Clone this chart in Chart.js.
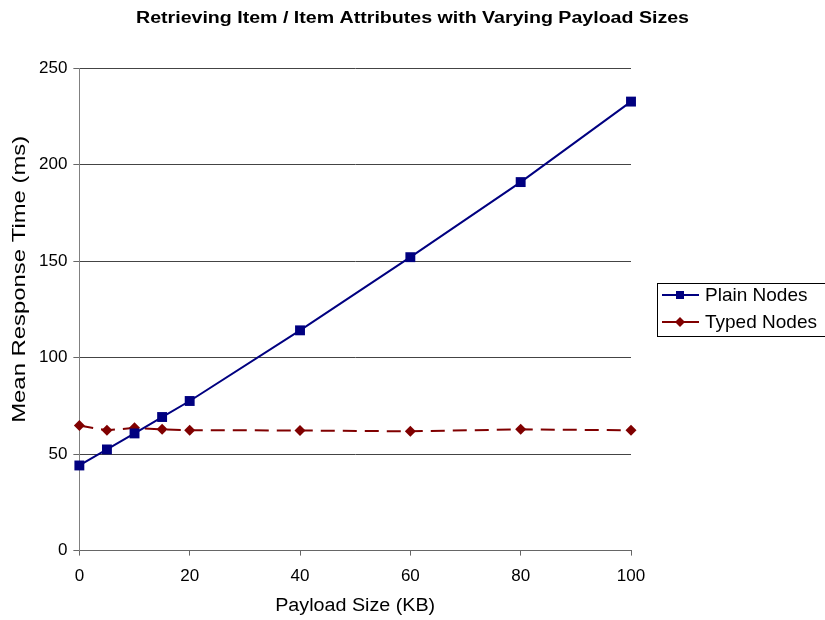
<!DOCTYPE html>
<html><head><meta charset="utf-8">
<script src="https://cdn.jsdelivr.net/npm/chart.js@4"></script>
<style>html,body{margin:0;padding:0;background:#fff;}#wrap{width:825px;height:620px;}</style>
</head><body><div id="wrap"><canvas id="c" width="825" height="620"></canvas></div>
<script>
const payloadSizes = [0, 5, 10, 15, 20, 40, 60, 80, 100];
const plainNodes = [44.1, 52.4, 60.7, 69.2, 77.5, 114.1, 152.0, 190.9, 232.6];
const typedNodes = [64.8, 62.3, 63.6, 62.8, 62.4, 62.2, 61.8, 62.8, 62.3];
const seriesLabels = ['Plain Nodes', 'Typed Nodes'];
const titleText = 'Retrieving Item / Item Attributes with Varying Payload Sizes';
const xTitle = 'Payload Size (KB)';
const yTitle = 'Mean Response Time (ms)';

const FONT = "'Liberation Sans', Arial, sans-serif";
Chart.defaults.font.family = FONT;
Chart.defaults.color = '#000';

function stretchedText(ctx, text, cx, cy, font, targetW, rot) {
  ctx.save();
  ctx.font = font;
  const w = ctx.measureText(text).width;
  const sx = targetW / w;
  ctx.translate(cx, cy);
  if (rot) ctx.rotate(rot);
  ctx.scale(sx, 1);
  ctx.fillStyle = '#000';
  ctx.textAlign = 'center';
  ctx.textBaseline = 'middle';
  ctx.fillText(text, 0, 0);
  ctx.restore();
}

const decorations = {
  id: 'decorations',
  afterDraw(chart) {
    const ctx = chart.ctx;
    const ca = chart.chartArea;
    stretchedText(ctx, titleText, chart.width / 2, 19, 'bold 16px ' + FONT, 553, 0);
    stretchedText(ctx, xTitle, (ca.left + ca.right) / 2, 606, '18px ' + FONT, 160, 0);
    stretchedText(ctx, yTitle, 20, (ca.top + ca.bottom) / 2 - 30, '18px ' + FONT, 287, -Math.PI / 2);
    const x0 = 657, y0 = 283, w = 175, h = 53;
    ctx.save();
    ctx.strokeStyle = '#000';
    ctx.lineWidth = 1;
    ctx.strokeRect(x0 + 0.5, y0 + 0.5, w, h);
    chart.data.datasets.forEach((ds, i) => {
      const y = y0 + 12 + i * 27;
      ctx.strokeStyle = ds.borderColor;
      ctx.lineWidth = 2;
      ctx.beginPath(); ctx.moveTo(662, y); ctx.lineTo(699, y); ctx.stroke();
      ctx.fillStyle = ds.borderColor;
      if (ds.pointStyle === 'rect') {
        ctx.fillRect(676, y - 4, 8, 8);
      } else {
        ctx.beginPath(); ctx.moveTo(680, y - 5); ctx.lineTo(685, y); ctx.lineTo(680, y + 5); ctx.lineTo(675, y); ctx.closePath(); ctx.fill();
      }
      ctx.fillStyle = '#000';
      ctx.font = '19px ' + FONT;
      ctx.textBaseline = 'middle';
      ctx.textAlign = 'left';
      ctx.fillText(ds.label, 705, y + 1);
    });
    ctx.restore();
  }
};

new Chart(document.getElementById('c'), {
  type: 'line',
  data: {
    datasets: [
      {
        label: seriesLabels[0],
        data: payloadSizes.map((x, i) => ({x, y: plainNodes[i]})),
        borderColor: '#000080', backgroundColor: '#000080',
        borderWidth: 2, pointStyle: 'rect', pointRadius: 7, pointBorderWidth: 0,
        clip: false, tension: 0
      },
      {
        label: seriesLabels[1],
        data: payloadSizes.map((x, i) => ({x, y: typedNodes[i]})),
        borderColor: '#800000', backgroundColor: '#800000',
        borderWidth: 2, borderDash: [14, 8], pointStyle: 'rectRot', pointRadius: 5.5, pointBorderWidth: 0,
        clip: false, tension: 0
      }
    ]
  },
  options: {
    responsive: false, animation: false,
    layout: { padding: { left: 33, right: 194, top: 68, bottom: 22 } },
    plugins: {
      legend: { display: false },
      tooltip: { enabled: false },
      title: { display: false }
    },
    scales: {
      x: {
        type: 'linear', min: 0, max: 100,
        ticks: { stepSize: 20, font: { size: 17 }, color: '#000', padding: 11, maxRotation: 0 },
        grid: { drawOnChartArea: false, drawTicks: true, tickLength: 5, color: '#666' },
        border: { color: '#666', width: 1 },
        title: { display: false }
      },
      y: {
        min: 0, max: 250,
        ticks: { stepSize: 50, font: { size: 17 }, color: '#000', padding: 6 },
        grid: { color: '#444', lineWidth: 1, tickLength: 6, tickColor: '#666' },
        border: { color: '#808080', width: 1 },
        title: { display: false }
      }
    }
  },
  plugins: [decorations]
});
</script></body></html>
